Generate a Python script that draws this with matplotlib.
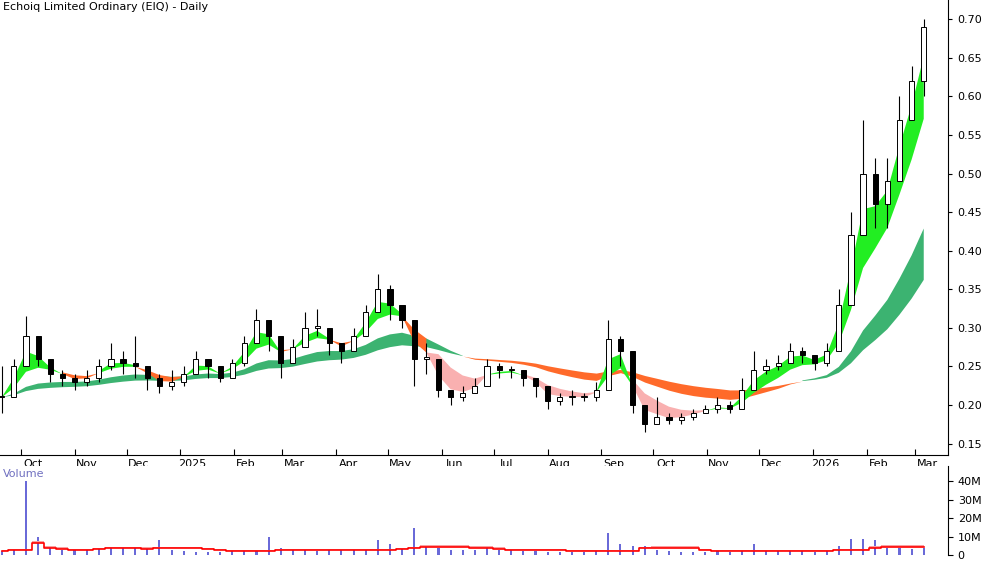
import matplotlib
matplotlib.use("Agg")
import matplotlib.pyplot as plt
import matplotlib.dates as mdates
import numpy as np
import pandas as pd

dates = pd.date_range("2024-09-20", periods=77, freq="W-FRI")
close = [0.21,0.25,0.29,0.26,0.24,0.235,0.23,0.235,0.25,0.26,0.255,0.25,0.235,0.225,0.23,0.24,0.26,0.25,0.235,0.255,
         0.28,0.31,0.29,0.255,0.275,0.30,0.30,0.28,0.27,0.29,0.32,0.35,0.33,0.31,0.26,0.26,0.22,0.21,0.215,0.225,
         0.25,0.245,0.245,0.235,0.225,0.205,0.21,0.21,0.21,0.22,0.285,0.27,0.20,0.175,0.185,0.18,0.185,0.19,0.195,0.20,
         0.195,0.22,0.245,0.25,0.255,0.27,0.265,0.255,0.27,0.33,0.42,0.50,0.46,0.49,0.57,0.62,0.69]
high = [0.25,0.26,0.315,0.29,0.26,0.245,0.24,0.245,0.26,0.28,0.27,0.29,0.25,0.24,0.245,0.25,0.27,0.26,0.25,0.26,
        0.29,0.325,0.31,0.275,0.285,0.32,0.325,0.30,0.28,0.30,0.33,0.37,0.355,0.32,0.31,0.28,0.245,0.22,0.225,0.235,
        0.26,0.255,0.25,0.245,0.235,0.22,0.215,0.22,0.215,0.23,0.31,0.29,0.24,0.20,0.21,0.19,0.19,0.195,0.20,0.21,
        0.205,0.235,0.27,0.26,0.265,0.28,0.275,0.265,0.28,0.35,0.45,0.57,0.52,0.52,0.60,0.64,0.70]
low = [0.19,0.21,0.25,0.25,0.23,0.225,0.22,0.225,0.23,0.245,0.24,0.235,0.22,0.215,0.22,0.225,0.24,0.235,0.23,0.235,
       0.25,0.28,0.27,0.235,0.255,0.28,0.29,0.265,0.255,0.27,0.29,0.32,0.31,0.30,0.225,0.24,0.21,0.20,0.205,0.215,
       0.225,0.235,0.235,0.225,0.21,0.195,0.20,0.20,0.205,0.205,0.24,0.25,0.19,0.165,0.175,0.175,0.175,0.18,0.19,0.19,
       0.19,0.20,0.23,0.24,0.245,0.255,0.255,0.245,0.25,0.28,0.35,0.42,0.43,0.43,0.52,0.58,0.60]
volume_m = [2.5,3,40,10,4,3,3,3,3.5,4,4,4,3.5,8,3,2.5,2,2,2,2.5,
            3,3,10,4,3,3,2.5,3,3,3,3.5,8,6,4,15,5,4,3,3,3,
            4,3,3,2.5,2.5,2,2,2,2,2.5,12,6,5,5,3,2.5,2,2,2,2.5,
            2,2.5,6,3,2.5,2.5,3,2,2.5,5,9,9,8,4,4,3.5,4]

df = pd.DataFrame({"close": close, "high": high, "low": low, "vol": volume_m}, index=dates)
df["open"] = df["close"].shift(1).fillna(df["close"].iloc[0])

s1 = df["close"].ewm(span=2.2, adjust=False).mean()
s2 = df["close"].ewm(span=5.5, adjust=False).mean()
l1 = df["close"].ewm(span=16, adjust=False).mean()
l2 = df["close"].ewm(span=28, adjust=False).mean()
s_top = np.maximum(s1, s2); s_bot = np.minimum(s1, s2)
l_top = np.maximum(l1, l2); l_bot = np.minimum(l1, l2)
s_up = (s1 >= s2).values
l_up = (l1 >= l2).values
s_below = (s_top < l_bot).values

fig = plt.figure(figsize=(10, 5.62), dpi=100)
ax = fig.add_axes([0.0, 0.19, 0.948, 0.81])
axv = fig.add_axes([0.0, 0.012, 0.948, 0.158], sharex=ax)

x = mdates.date2num(df.index)
ax.fill_between(x, l_bot, l_top, where=l_up, color="#3cb371", lw=0, interpolate=True)
ax.fill_between(x, l_bot, l_top, where=~l_up, color="#ff6a2a", lw=0, interpolate=True)
ax.fill_between(x, s_bot, s_top, where=s_up, color="#22ee22", lw=0, interpolate=True)
ax.fill_between(x, s_bot, s_top, where=(~s_up) & (~s_below), color="#ff6a2a", lw=0, interpolate=True)
ax.fill_between(x, s_bot, s_top, where=(~s_up) & s_below, color="#f9b0b0", lw=0, interpolate=True)

w = 3.0
for xi, o, h, l, c in zip(x, df["open"], df["high"], df["low"], df["close"]):
    ax.vlines(xi, l, h, color="black", lw=0.8, zorder=3)
    up = c >= o
    ax.add_patch(plt.Rectangle((xi - w/2, min(o, c)), w, max(abs(c - o), 0.002),
                               facecolor="white" if up else "black", edgecolor="black", lw=0.7, zorder=4))

ax.set_ylim(0.135, 0.725)
ax.set_xlim(mdates.date2num(pd.Timestamp("2024-09-19")), mdates.date2num(pd.Timestamp("2026-03-20")))
ax.yaxis.tick_right()
ax.set_yticks(np.arange(0.15, 0.701, 0.05))
ax.set_yticklabels([f"{v:.2f}" for v in np.arange(0.15, 0.701, 0.05)], fontsize=8)
ax.xaxis.set_major_locator(mdates.MonthLocator())
ax.xaxis.set_major_formatter(plt.NullFormatter())
ax.xaxis.set_minor_locator(mdates.MonthLocator(bymonthday=8))
def fmt(v, pos=None):
    d = mdates.num2date(v)
    return str(d.year) if d.month == 1 else d.strftime("%b")
ax.xaxis.set_minor_formatter(plt.FuncFormatter(fmt))
ax.tick_params(axis="x", which="minor", length=0, labelsize=8, pad=3)
ax.tick_params(axis="x", which="major", length=4, direction="in")
ax.tick_params(axis="y", length=3, direction="out")
for sp in ["top", "left"]:
    ax.spines[sp].set_visible(False)
ax.text(0.003, 0.995, "Echoiq Limited Ordinary (EIQ) - Daily", transform=ax.transAxes,
        fontsize=8, va="top", ha="left")

vm = df["vol"].rolling(8, min_periods=1).median()
axv.bar(x, df["vol"], width=1.2, color="#6a6ad8")
axv.fill_between(x, vm, vm * 1.2, color="#f9a0a0", lw=0, step="mid")
axv.plot(x, vm, color="red", lw=1.2, drawstyle="steps-mid")
axv.set_ylim(0, 48)
axv.yaxis.tick_right()
axv.set_yticks([0, 10, 20, 30, 40])
axv.set_yticklabels(["0", "10M", "20M", "30M", "40M"], fontsize=8)
axv.tick_params(axis="x", which="both", length=0, labelbottom=False)
for sp in ["top", "left", "bottom"]:
    axv.spines[sp].set_visible(False)
axv.text(0.003, 0.97, "Volume", transform=axv.transAxes, fontsize=8, va="top", color="#7070c0")
fig.savefig("out.png", dpi=100)
